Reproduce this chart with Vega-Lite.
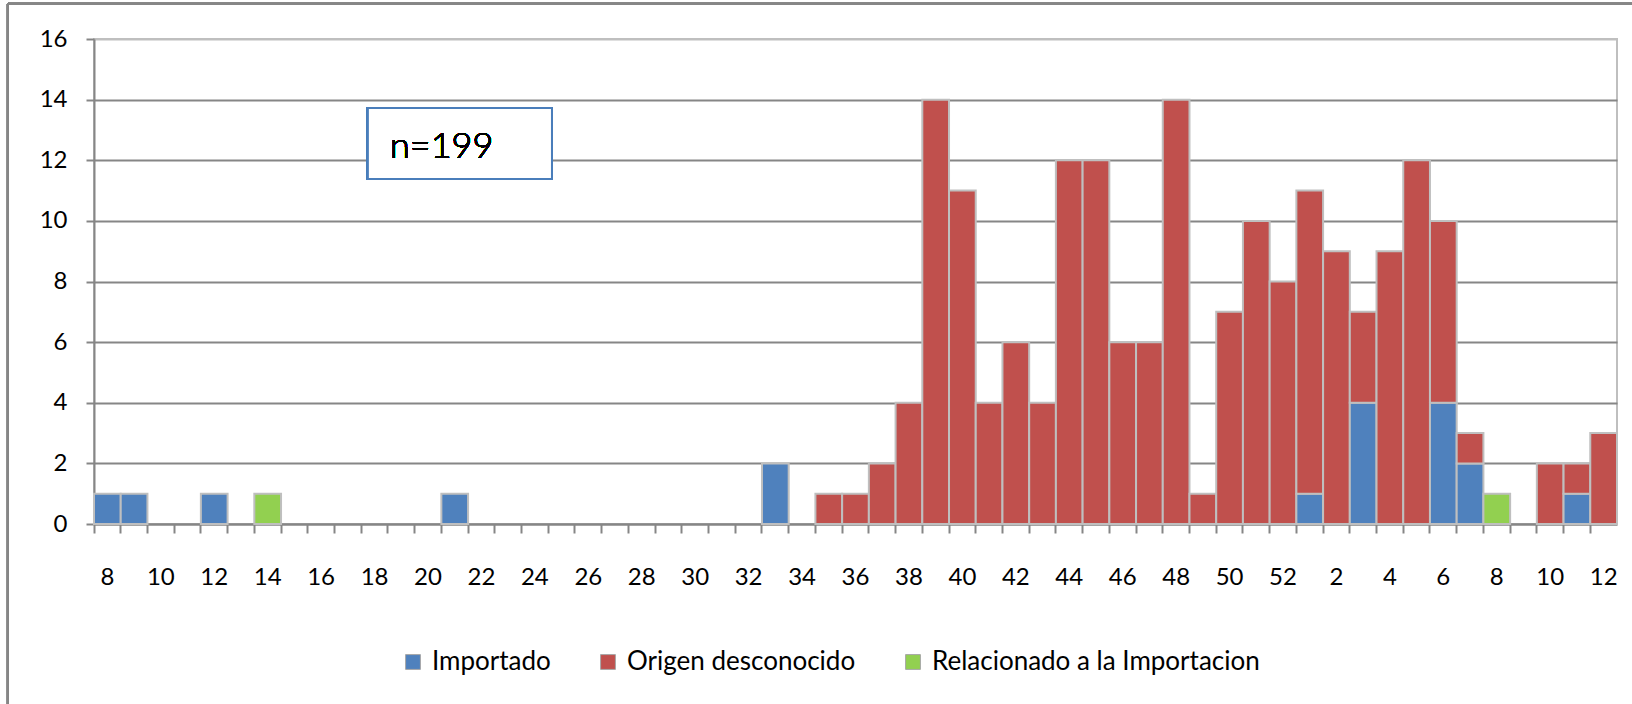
{
  "$schema": "https://vega.github.io/schema/vega-lite/v6.json",
  "width": 1523,
  "height": 485,
  "autosize": "none",
  "padding": {"left": 94, "top": 39, "right": 15, "bottom": 180},
  "background": "white",
  "config": {
    "font": "Lato",
    "view": {"stroke": "#bfbfbf", "strokeWidth": 2}
  },
  "data": {
    "values": [
      {"semana": "a08", "tipo": "Importado", "casos": 1},
      {"semana": "a09", "tipo": "Importado", "casos": 1},
      {"semana": "a12", "tipo": "Importado", "casos": 1},
      {"semana": "a14", "tipo": "Relacionado a la Importacion", "casos": 1},
      {"semana": "a21", "tipo": "Importado", "casos": 1},
      {"semana": "a33", "tipo": "Importado", "casos": 2},
      {"semana": "a35", "tipo": "Origen desconocido", "casos": 1},
      {"semana": "a36", "tipo": "Origen desconocido", "casos": 1},
      {"semana": "a37", "tipo": "Origen desconocido", "casos": 2},
      {"semana": "a38", "tipo": "Origen desconocido", "casos": 4},
      {"semana": "a39", "tipo": "Origen desconocido", "casos": 14},
      {"semana": "a40", "tipo": "Origen desconocido", "casos": 11},
      {"semana": "a41", "tipo": "Origen desconocido", "casos": 4},
      {"semana": "a42", "tipo": "Origen desconocido", "casos": 6},
      {"semana": "a43", "tipo": "Origen desconocido", "casos": 4},
      {"semana": "a44", "tipo": "Origen desconocido", "casos": 12},
      {"semana": "a45", "tipo": "Origen desconocido", "casos": 12},
      {"semana": "a46", "tipo": "Origen desconocido", "casos": 6},
      {"semana": "a47", "tipo": "Origen desconocido", "casos": 6},
      {"semana": "a48", "tipo": "Origen desconocido", "casos": 14},
      {"semana": "a49", "tipo": "Origen desconocido", "casos": 1},
      {"semana": "a50", "tipo": "Origen desconocido", "casos": 7},
      {"semana": "a51", "tipo": "Origen desconocido", "casos": 10},
      {"semana": "a52", "tipo": "Origen desconocido", "casos": 8},
      {"semana": "b01", "tipo": "Importado", "casos": 1},
      {"semana": "b01", "tipo": "Origen desconocido", "casos": 10},
      {"semana": "b02", "tipo": "Origen desconocido", "casos": 9},
      {"semana": "b03", "tipo": "Importado", "casos": 4},
      {"semana": "b03", "tipo": "Origen desconocido", "casos": 3},
      {"semana": "b04", "tipo": "Origen desconocido", "casos": 9},
      {"semana": "b05", "tipo": "Origen desconocido", "casos": 12},
      {"semana": "b06", "tipo": "Importado", "casos": 4},
      {"semana": "b06", "tipo": "Origen desconocido", "casos": 6},
      {"semana": "b07", "tipo": "Importado", "casos": 2},
      {"semana": "b07", "tipo": "Origen desconocido", "casos": 1},
      {"semana": "b08", "tipo": "Relacionado a la Importacion", "casos": 1},
      {"semana": "b10", "tipo": "Origen desconocido", "casos": 2},
      {"semana": "b11", "tipo": "Importado", "casos": 1},
      {"semana": "b11", "tipo": "Origen desconocido", "casos": 1},
      {"semana": "b12", "tipo": "Origen desconocido", "casos": 3}
    ]
  },
  "layer": [
    {
      "mark": {"type": "bar", "stroke": "#bfbfbf", "strokeWidth": 2},
      "encoding": {
        "x": {
          "field": "semana",
          "type": "nominal",
          "scale": {
            "domain": ["a08","a09","a10","a11","a12","a13","a14","a15","a16","a17","a18","a19","a20","a21","a22","a23","a24","a25","a26","a27","a28","a29","a30","a31","a32","a33","a34","a35","a36","a37","a38","a39","a40","a41","a42","a43","a44","a45","a46","a47","a48","a49","a50","a51","a52","b01","b02","b03","b04","b05","b06","b07","b08","b09","b10","b11","b12"],
            "paddingInner": 0,
            "paddingOuter": 0
          },
          "axis": {
            "title": null,
            "labelAngle": 0,
            "labelExpr": "toNumber(substring(datum.value,1)) % 2 == 0 ? '' + toNumber(substring(datum.value,1)) : ''",
            "labelFontSize": 24,
            "labelColor": "#000000",
            "labelPadding": 32,
            "bandPosition": 0,
            "tickSize": 9,
            "tickColor": "#868686",
            "tickWidth": 2,
            "domainColor": "#868686",
            "domainWidth": 2,
            "grid": false
          }
        },
        "y": {
          "field": "casos",
          "type": "quantitative",
          "aggregate": "sum",
          "scale": {"domain": [0, 16], "nice": false},
          "axis": {
            "title": null,
            "values": [0, 2, 4, 6, 8, 10, 12, 14, 16],
            "labelFontSize": 24,
            "labelColor": "#000000",
            "labelPadding": 19,
            "tickSize": 8,
            "tickColor": "#868686",
            "tickWidth": 2,
            "domainColor": "#868686",
            "domainWidth": 2,
            "grid": true,
            "gridColor": {"condition": {"test": "datum.value == 16", "value": "#bfbfbf"}, "value": "#868686"},
            "gridWidth": 2
          }
        },
        "order": {"field": "tipo", "type": "nominal", "sort": "ascending"},
        "color": {
          "field": "tipo",
          "type": "nominal",
          "scale": {
            "domain": ["Importado", "Origen desconocido", "Relacionado a la Importacion"],
            "range": ["#4f81bd", "#c0504d", "#92d050"]
          },
          "legend": {
            "title": null,
            "orient": "none",
            "legendX": 306,
            "legendY": 610,
            "direction": "horizontal",
            "symbolType": "square",
            "symbolSize": 220,
            "symbolStrokeColor": "#a6a6a6",
            "symbolStrokeWidth": 1,
            "labelFontSize": 26,
            "labelColor": "#000000",
            "labelOffset": 6,
            "labelLimit": 0,
            "columnPadding": 44
          }
        }
      }
    },
    {
      "layer": [
        {
          "mark": {"type": "rect", "fill": "white", "stroke": "#4a7ebb", "strokeWidth": 2},
          "encoding": {
            "x": {"datum": 10.25, "type": "quantitative", "scale": {"domain": [0, 57], "nice": false, "zero": false}, "axis": null},
            "x2": {"datum": 17.14},
            "y": {"datum": 13.72, "type": "quantitative"},
            "y2": {"datum": 11.38}
          }
        },
        {
          "mark": {"type": "text", "text": "n=199", "font": "Lato", "fontSize": 36, "fontWeight": 300, "align": "left", "baseline": "alphabetic", "color": "#000000"},
          "encoding": {
            "x": {"datum": 11.08, "type": "quantitative", "axis": null},
            "y": {"datum": 12.07, "type": "quantitative"}
          }
        },
        {
          "mark": {"type": "rule", "stroke": "#868686", "strokeWidth": 2},
          "encoding": {
            "x": {"datum": -3.22, "type": "quantitative", "axis": null},
            "x2": {"datum": 60},
            "y": {"datum": 17.16, "type": "quantitative"}
          }
        },
        {
          "mark": {"type": "rule", "stroke": "#868686", "strokeWidth": 2},
          "encoding": {
            "x": {"datum": -3.22, "type": "quantitative", "axis": null},
            "y": {"datum": 17.16, "type": "quantitative"},
            "y2": {"datum": -6}
          }
        }
      ]
    }
  ],
  "resolve": {"scale": {"x": "independent"}, "axis": {"x": "independent"}}
}
